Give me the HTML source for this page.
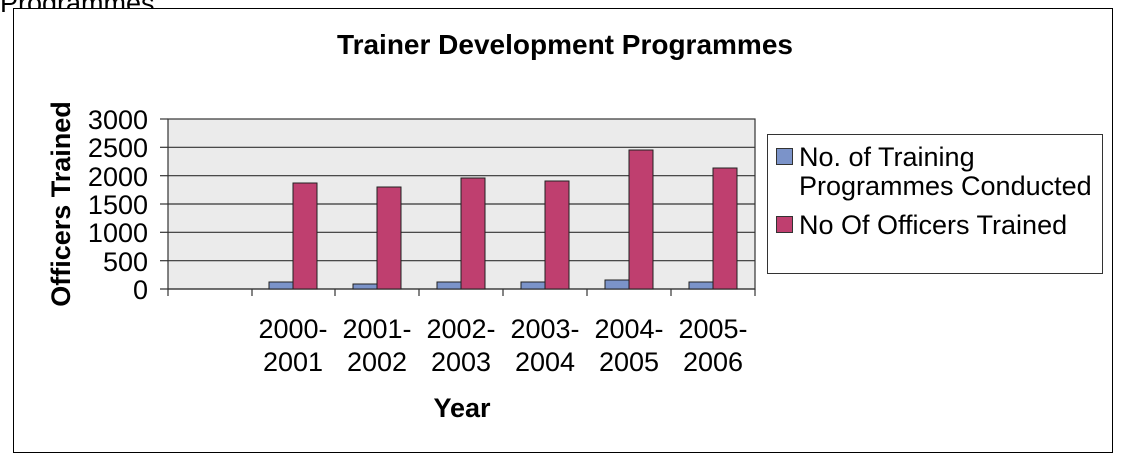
<!DOCTYPE html>
<html><head><meta charset="utf-8"><style>
html,body{margin:0;padding:0;background:#fff;width:1123px;height:454px;overflow:hidden}
svg text{font-family:"Liberation Sans",Arial,sans-serif;fill:#000}
</style></head><body>
<svg width="1123" height="454" viewBox="0 0 1123 454" xmlns="http://www.w3.org/2000/svg">
<text x="0" y="12" font-size="27">Programmes.</text>
<rect x="13.5" y="8.5" width="1099" height="444" fill="#fff" stroke="#000" stroke-width="1"/>
<text x="565" y="54" font-size="28" font-weight="bold" text-anchor="middle">Trainer Development Programmes</text>
<rect x="168" y="119" width="587" height="170" fill="#ebebeb" stroke="#333" stroke-width="1.2"/>
<g stroke="#333" stroke-width="1.2">
<line x1="168" y1="147.3" x2="755" y2="147.3"/>
<line x1="168" y1="175.7" x2="755" y2="175.7"/>
<line x1="168" y1="204" x2="755" y2="204"/>
<line x1="168" y1="232.3" x2="755" y2="232.3"/>
<line x1="168" y1="260.7" x2="755" y2="260.7"/>
<line x1="160" y1="289" x2="755" y2="289"/>
<line x1="160" y1="119" x2="168" y2="119"/>
<line x1="160" y1="147.3" x2="168" y2="147.3"/>
<line x1="160" y1="175.7" x2="168" y2="175.7"/>
<line x1="160" y1="204" x2="168" y2="204"/>
<line x1="160" y1="232.3" x2="168" y2="232.3"/>
<line x1="160" y1="260.7" x2="168" y2="260.7"/>
<line x1="168" y1="289" x2="168" y2="296"/>
<line x1="252" y1="289" x2="252" y2="296"/>
<line x1="335" y1="289" x2="335" y2="296"/>
<line x1="419" y1="289" x2="419" y2="296"/>
<line x1="503" y1="289" x2="503" y2="296"/>
<line x1="587" y1="289" x2="587" y2="296"/>
<line x1="671" y1="289" x2="671" y2="296"/>
<line x1="755" y1="289" x2="755" y2="296"/>
</g>
<g stroke="#222" stroke-width="1">
<rect x="269" y="282" width="24" height="7" fill="#7b93c9"/>
<rect x="293" y="183" width="24" height="106" fill="#bf3f6f"/>
<rect x="353" y="284" width="24" height="5" fill="#7b93c9"/>
<rect x="377" y="187" width="24" height="102" fill="#bf3f6f"/>
<rect x="437" y="282" width="24" height="7" fill="#7b93c9"/>
<rect x="461" y="178" width="24" height="111" fill="#bf3f6f"/>
<rect x="521" y="282" width="24" height="7" fill="#7b93c9"/>
<rect x="545" y="181" width="24" height="108" fill="#bf3f6f"/>
<rect x="605" y="280" width="24" height="9" fill="#7b93c9"/>
<rect x="629" y="150" width="24" height="139" fill="#bf3f6f"/>
<rect x="689" y="282" width="24" height="7" fill="#7b93c9"/>
<rect x="713" y="168" width="24" height="121" fill="#bf3f6f"/>
</g>
<g font-size="27" text-anchor="end">
<text x="148" y="129">3000</text>
<text x="148" y="157">2500</text>
<text x="148" y="186">2000</text>
<text x="148" y="214">1500</text>
<text x="148" y="242">1000</text>
<text x="148" y="271">500</text>
<text x="148" y="299">0</text>
</g>
<text transform="translate(70,204) rotate(-90)" font-size="27" font-weight="bold" text-anchor="middle">Officers Trained</text>
<g font-size="27" text-anchor="middle">
<text x="293" y="338">2000-</text><text x="293" y="371">2001</text>
<text x="377" y="338">2001-</text><text x="377" y="371">2002</text>
<text x="461" y="338">2002-</text><text x="461" y="371">2003</text>
<text x="545" y="338">2003-</text><text x="545" y="371">2004</text>
<text x="629" y="338">2004-</text><text x="629" y="371">2005</text>
<text x="713" y="338">2005-</text><text x="713" y="371">2006</text>
</g>
<text x="462" y="417" font-size="27" font-weight="bold" text-anchor="middle">Year</text>
<rect x="767.5" y="134.5" width="335" height="139" fill="#fff" stroke="#333" stroke-width="1"/>
<rect x="776.5" y="148.5" width="16" height="16" fill="#7b93c9" stroke="#333" stroke-width="1"/>
<rect x="776.5" y="216.5" width="16" height="16" fill="#bf3f6f" stroke="#333" stroke-width="1"/>
<g font-size="27">
<text x="799" y="166">No. of Training</text>
<text x="799" y="195">Programmes Conducted</text>
<text x="799" y="234">No Of Officers Trained</text>
</g>
</svg>
</body></html>
